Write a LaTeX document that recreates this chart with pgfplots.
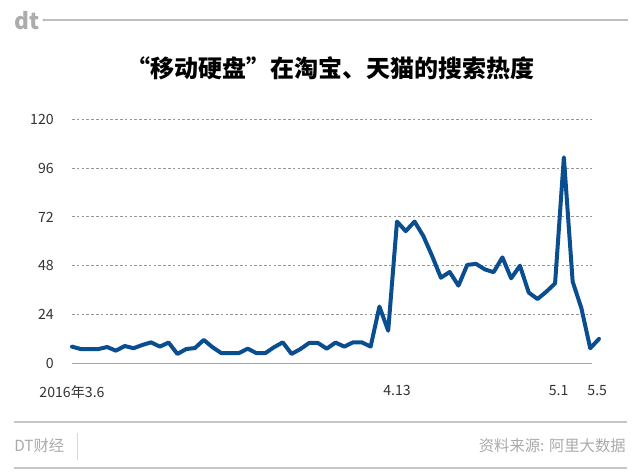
\documentclass[border=0pt]{standalone}
\usepackage{pgfplots}
\pgfplotsset{compat=1.18}
\usepackage{fontspec}
\setmainfont{Noto Sans CJK SC}
\definecolor{lineblue}{RGB}{11,78,143}
\definecolor{gridgray}{RGB}{150,150,150}
\definecolor{footgray}{RGB}{170,170,170}
\begin{document}
\begin{tikzpicture}[x=0.75pt,y=0.75pt]
\useasboundingbox (0,0) rectangle (638,473);
% header
\node[anchor=west, text=gray!65, font=\fontsize{17}{17}\selectfont\bfseries, inner sep=0] at (14,452.5) {dt};
\draw[gray!50, line width=0.9pt] (44,453) -- (628,453);
\fill[gray!50] (44,453) circle (1.6);
\node[font=\fontsize{18}{20}\selectfont\bfseries, inner sep=0] at (330,405) {“移动硬盘”在淘宝、天猫的搜索热度};
% footer
\draw[gray!45, line width=0.8pt] (14,51) -- (627,51);
\draw[gray!45, line width=0.8pt] (14,5) -- (627,5);
\draw[gray!30, line width=0.6pt] (77,13) -- (77,40);
\node[anchor=west, text=footgray, font=\fontsize{11.5}{12}\selectfont, inner sep=0] at (14,27) {DT财经};
\node[anchor=east, text=footgray, font=\fontsize{11.5}{12}\selectfont, inner sep=0] at (626,27) {资料来源: 阿里大数据};
\begin{axis}[
  at={(54pt,82.275pt)}, anchor=south west,
  scale only axis, width=395.25pt, height=183pt,
  xmin=0, xmax=60, ymin=0, ymax=120,
  clip=false,
  axis line style={draw=none},
  ytick={0,24,48,72,96,120},
  xtick={0,37,55.4,59.8},
  xticklabels={2016年3.6,4.13,5.1,5.5},
  major tick length=0pt,
  /pgf/number format/assume math mode=true,
  tick label style={font=\fontsize{10.6}{12}\selectfont, text=black!80},
  yticklabel style={anchor=east, inner sep=0pt, xshift=-13.5pt},
  xticklabel style={anchor=north, inner sep=0pt, yshift=-16.5pt},
]
\foreach \g in {24,48,72,96,120}{
  \edef\tmp{\noexpand\draw[gridgray, line width=0.6pt, dash pattern=on 2pt off 1.6pt] (axis cs:0,\g) -- (axis cs:59.2,\g);}
  \tmp
}
\draw[gray!70, line width=0.8pt] (axis cs:0,0) -- (axis cs:59.2,0);
\addplot[lineblue, line width=3pt, line join=round, line cap=round] coordinates {
(0,8.2) (1,7) (2,7) (3,7) (4,8) (5,6.2) (6,8.5) (7,7.4) (8,9) (9,10.3)
(10,8.2) (11,10.2) (12,4.6) (13,7) (14,7.5) (15,11.5) (16,7.9) (17,5) (18,5) (19,5)
(20,7.2) (21,5) (22,5) (23,7.9) (24,10.3) (25,4.6) (26,7) (27,10) (28,10) (29,7.2)
(30,10.2) (31,8.2) (32,10.3) (33,10.3) (34,8.2) (35,27.9) (36,16) (37,69.7) (38,65) (39,69.7)
(40,62.6) (41,52.8) (42,42.1) (43,44.9) (44,38.2) (45,48.4) (46,48.9) (47,46.2) (48,44.8) (49,52.1)
(50,41.8) (51,48) (52,34.8) (53,31.6) (54,35.2) (55,39.3) (56,101.3) (57,40.2) (58,27) (59,7.4)
(60,12)
};
\end{axis}
\end{tikzpicture}
\end{document}
